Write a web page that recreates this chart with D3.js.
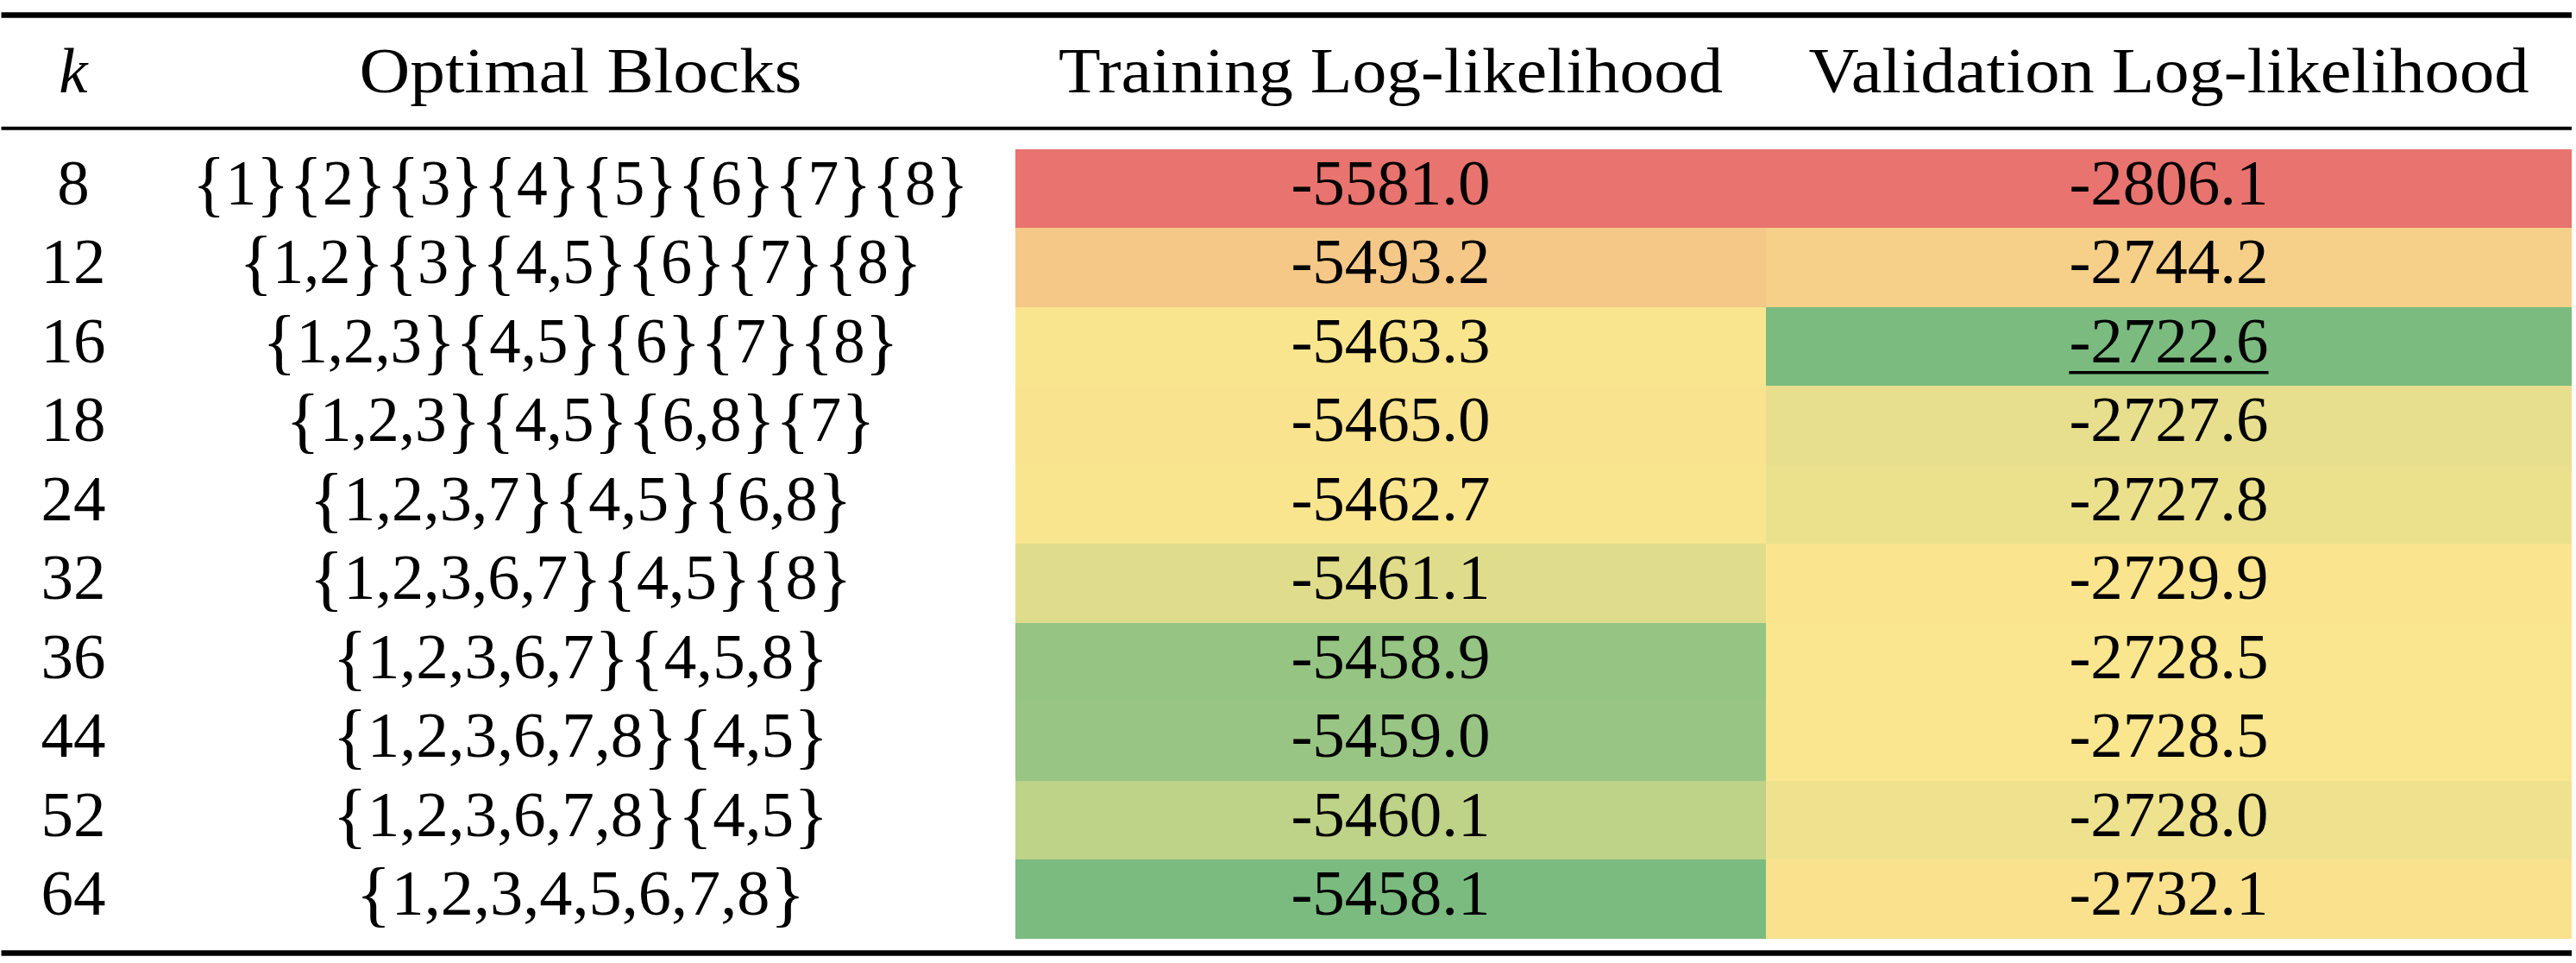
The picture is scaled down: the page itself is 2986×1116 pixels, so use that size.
<!DOCTYPE html>
<html>
<head>
<meta charset="utf-8">
<script src="https://cdn.jsdelivr.net/npm/d3@7"></script>
<style>
  body { margin: 0; background: #fff; }
  svg text { font-family: "Liberation Serif", "DejaVu Serif", serif; fill: #000; }
</style>
</head>
<body>
<script>
// table data
const headers = ["k", "Optimal Blocks", "Training Log-likelihood", "Validation Log-likelihood"];
const ks = [8, 12, 16, 18, 24, 32, 36, 44, 52, 64];
const blocks = [
  "{1}{2}{3}{4}{5}{6}{7}{8}",
  "{1,2}{3}{4,5}{6}{7}{8}",
  "{1,2,3}{4,5}{6}{7}{8}",
  "{1,2,3}{4,5}{6,8}{7}",
  "{1,2,3,7}{4,5}{6,8}",
  "{1,2,3,6,7}{4,5}{8}",
  "{1,2,3,6,7}{4,5,8}",
  "{1,2,3,6,7,8}{4,5}",
  "{1,2,3,6,7,8}{4,5}",
  "{1,2,3,4,5,6,7,8}"
];
const trainLL = [-5581.0, -5493.2, -5463.3, -5465.0, -5462.7, -5461.1, -5458.9, -5459.0, -5460.1, -5458.1];
const validLL = [-2806.1, -2744.2, -2722.6, -2727.6, -2727.8, -2729.9, -2728.5, -2728.5, -2728.0, -2732.1];

const W = 2986, H = 1116;
const fontSize = 75;

const svg = d3.select("body").append("svg")
  .attr("width", W).attr("height", H)
  .attr("viewBox", `0 0 ${W} ${H}`);

// layout
const colCenter = [85, 673, 1612, 2514];
const headerWidth = [null, 513, 770, 835];
const cellX = [1177, 2047, 2981]; // edges of the two coloured columns

const y = d3.scaleBand().domain(ks).range([172.7, 1087.7]);
const baseline = 64;

const fmt = d3.formatLocale({decimal: ".", thousands: "", grouping: [3], currency: ["", ""], minus: "-"}).format(".1f");

// 3-colour scale: min red, median yellow, max green
function colorScale(vals) {
  return d3.scaleLinear()
    .domain([d3.min(vals), d3.median(vals), d3.max(vals)])
    .range(["#e8736f", "#fae68f", "#7bbb80"])
    .interpolate(d3.interpolateRgb)
    .clamp(true);
}
const cTrain = colorScale(trainLL);
const cValid = colorScale(validLL);

// coloured cells
const cols = [
  {vals: trainLL, color: cTrain, x0: cellX[0], x1: cellX[1], cx: colCenter[2]},
  {vals: validLL, color: cValid, x0: cellX[1], x1: cellX[2], cx: colCenter[3]}
];
cols.forEach(function(c, ci) {
  const g = svg.append("g");
  g.selectAll("rect").data(c.vals).join("rect")
    .attr("x", c.x0)
    .attr("y", (d, i) => y(ks[i]))
    .attr("width", c.x1 - c.x0)
    .attr("height", y.bandwidth() + 0.5)
    .attr("fill", d => c.color(d))
    .attr("shape-rendering", "crispEdges");
  const t = g.selectAll("text").data(c.vals).join("text")
    .attr("x", c.cx)
    .attr("y", (d, i) => y(ks[i]) + baseline)
    .attr("text-anchor", "middle")
    .attr("font-size", fontSize)
    .text(d => fmt(d));
  // best validation value is underlined
  if (ci === 1) {
    const best = d3.max(c.vals);
    t.filter(d => d === best).each(function(d, i) {
      const bb = this.getBBox();
      const yy = +d3.select(this).attr("y") + 12;
      g.append("line")
        .attr("x1", bb.x).attr("x2", bb.x + bb.width)
        .attr("y1", yy).attr("y2", yy)
        .attr("stroke", "#000").attr("stroke-width", 3.5);
    });
  }
});

// k column
svg.append("g").selectAll("text").data(ks).join("text")
  .attr("x", colCenter[0])
  .attr("y", d => y(d) + baseline)
  .attr("text-anchor", "middle")
  .attr("font-size", fontSize)
  .text(d => d);

// blocks column: braces drawn a bit larger, width fitted to TeX-like advance widths
const adv = ch => ch === "," ? 0.278 : 0.5;
svg.append("g").selectAll("text").data(blocks).join("text")
  .attr("x", colCenter[1])
  .attr("y", (d, i) => y(ks[i]) + baseline)
  .attr("text-anchor", "middle")
  .attr("font-size", fontSize)
  .attr("textLength", d => d3.sum(d.split(""), adv) * fontSize)
  .attr("lengthAdjust", "spacingAndGlyphs")
  .each(function(d) {
    const sel = d3.select(this);
    d.split(/([{}])/).filter(s => s.length).forEach(function(tok) {
      const ts = sel.append("tspan").text(tok);
      if (tok === "{" || tok === "}") {
        ts.attr("font-size", 84).attr("baseline-shift", -4);
      }
    });
  });

// header
svg.append("g").selectAll("text").data(headers).join("text")
  .attr("x", (d, i) => colCenter[i])
  .attr("y", 107)
  .attr("text-anchor", "middle")
  .attr("font-size", fontSize)
  .attr("font-style", (d, i) => i === 0 ? "italic" : "normal")
  .each(function(d, i) {
    if (headerWidth[i]) {
      d3.select(this).attr("textLength", headerWidth[i]).attr("lengthAdjust", "spacingAndGlyphs");
    }
  })
  .text(d => d);

// booktabs rules
const rules = [{y: 17.5, w: 6.4}, {y: 148.7, w: 4}, {y: 1104.5, w: 6.4}];
svg.append("g").selectAll("line").data(rules).join("line")
  .attr("x1", 1.5).attr("x2", 2981)
  .attr("y1", d => d.y).attr("y2", d => d.y)
  .attr("stroke", "#000")
  .attr("stroke-width", d => d.w);
</script>
</body>
</html>
